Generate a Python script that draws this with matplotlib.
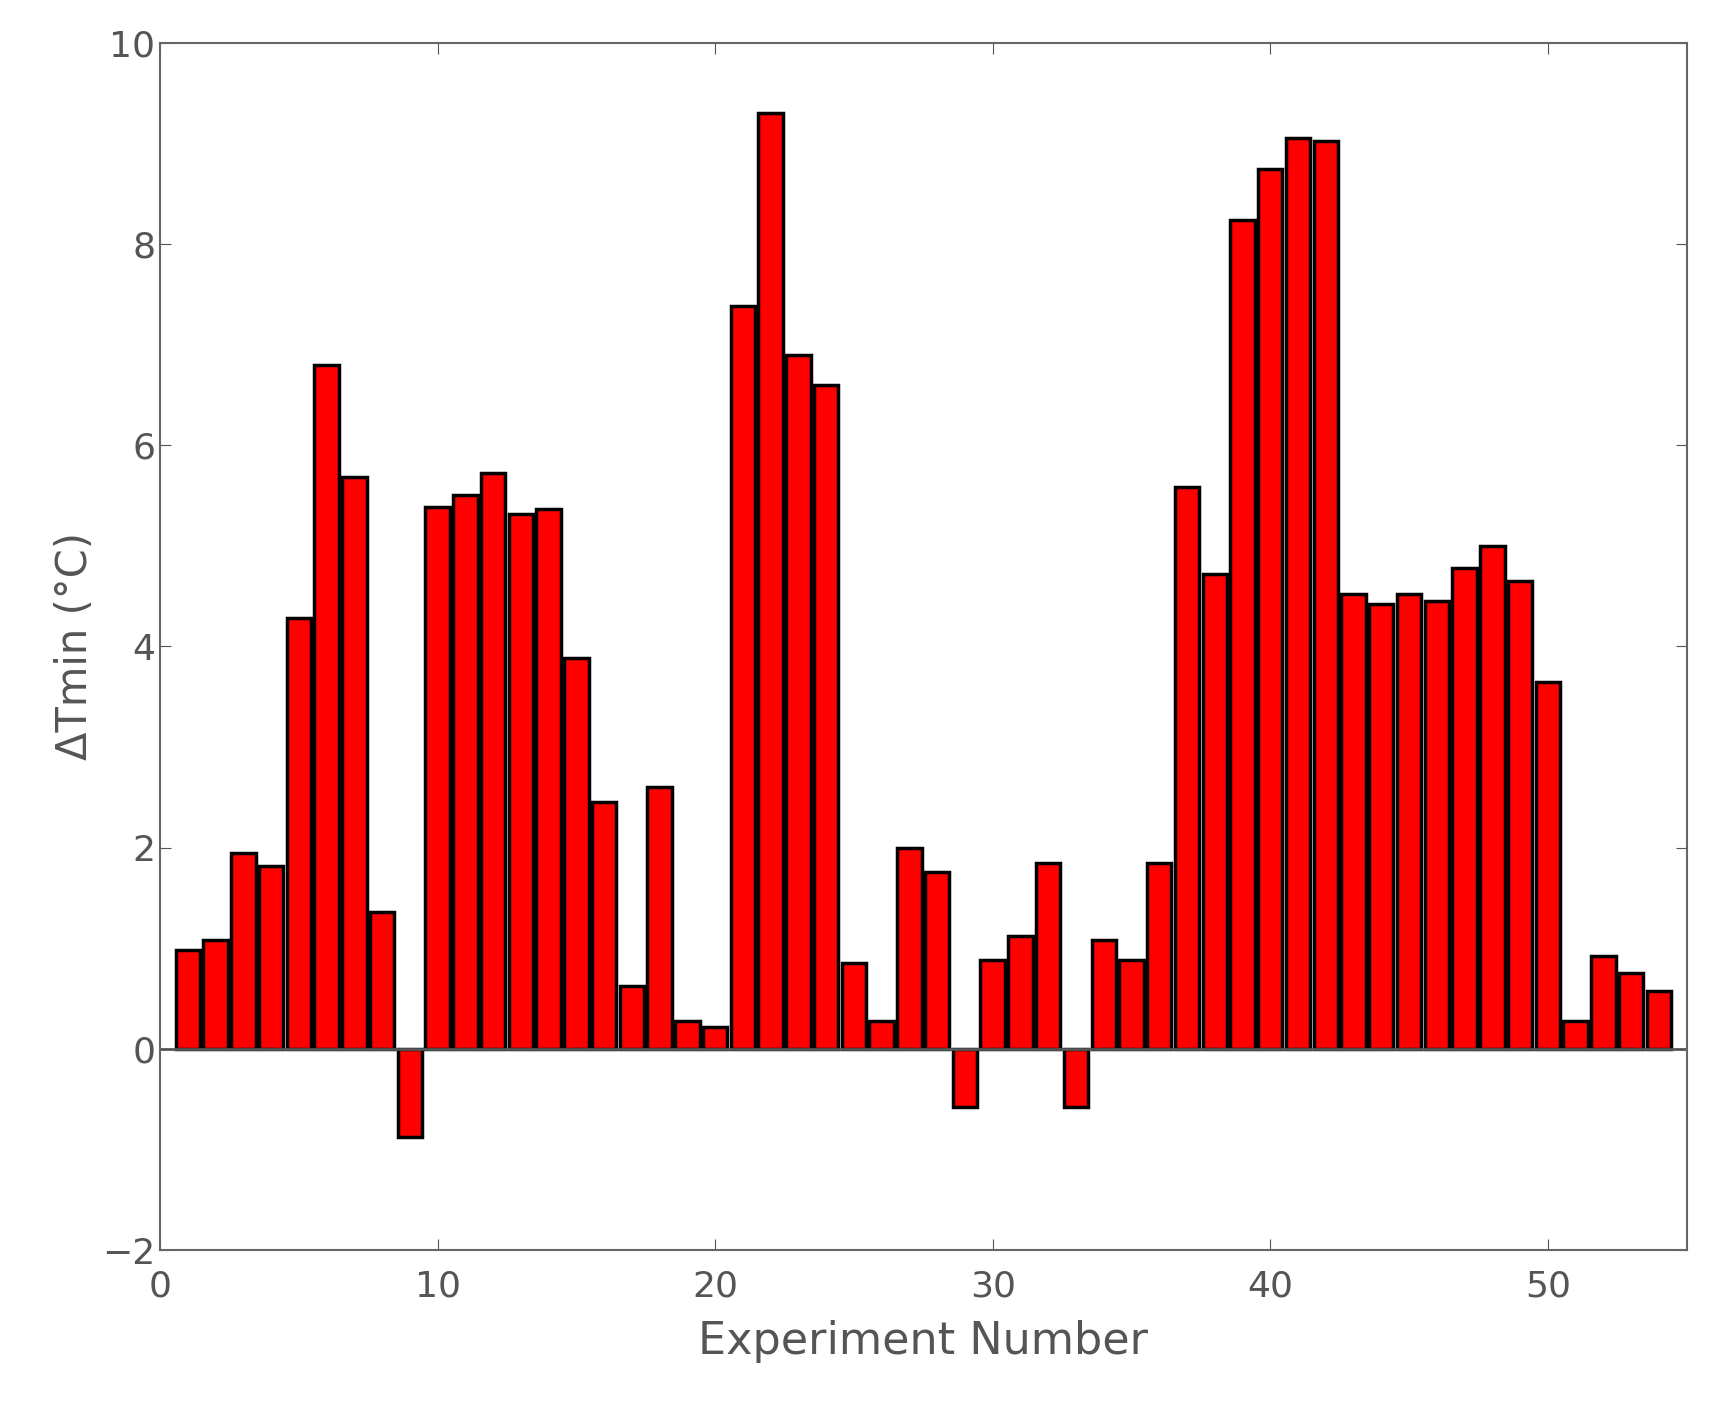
import numpy as np
import matplotlib.pyplot as plt

experiments = np.arange(1, 55)
dt_min = [0.98, 1.08, 1.95, 1.82, 4.28, 6.8, 5.68, 1.36, -0.88, 5.38,
          5.5, 5.72, 5.32, 5.36, 3.88, 2.45, 0.62, 2.6, 0.28, 0.22,
          7.38, 9.3, 6.9, 6.6, 0.85, 0.28, 2.0, 1.76, -0.58, 0.88,
          1.12, 1.85, -0.58, 1.08, 0.88, 1.85, 5.58, 4.72, 8.24, 8.74,
          9.05, 9.02, 4.52, 4.42, 4.52, 4.45, 4.78, 5.0, 4.65, 3.65,
          0.28, 0.92, 0.75, 0.58]

fig = plt.figure(figsize=(17.21, 14.19), dpi=100)
ax = fig.add_axes([0.093, 0.119, 0.887, 0.851])
ax.bar(experiments, dt_min, width=0.88, color="red", edgecolor="black", linewidth=2.5)
ax.axhline(0, color="#555555", linewidth=2)

ax.set_xlim(0, 55)
ax.set_ylim(-2, 10)
ax.set_xticks([0, 10, 20, 30, 40, 50])
ax.set_yticks([-2, 0, 2, 4, 6, 8, 10])
ax.tick_params(direction="in", length=8, labelsize=26, colors="#555555", top=True, right=True)
ax.tick_params(axis="x", pad=14)
for s in ax.spines.values():
    s.set_color("#666666")
    s.set_linewidth(1.5)
ax.set_xlabel("Experiment Number", fontsize=32, color="#555555", labelpad=12)
ax.set_ylabel("ΔTmin (°C)", fontsize=30, color="#555555")

fig.savefig("out.png", dpi=100)
